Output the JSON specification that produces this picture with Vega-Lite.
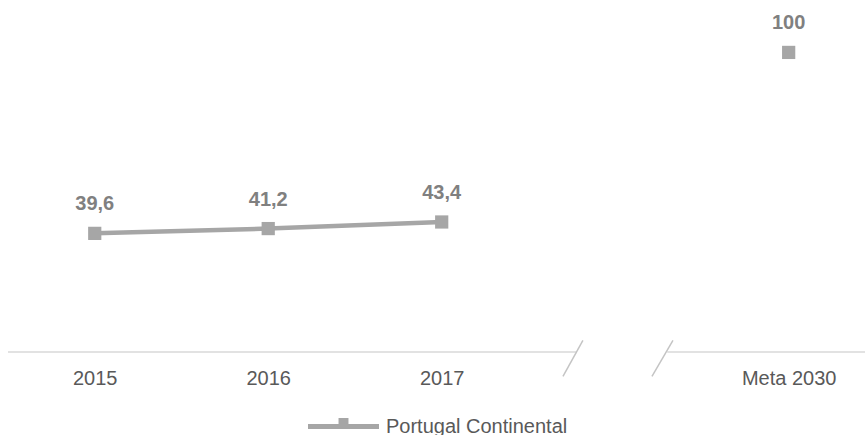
{
  "$schema": "https://vega.github.io/schema/vega-lite/v6.json",
  "width": 857,
  "height": 352,
  "autosize": {"type": "none"},
  "padding": {"left": 8, "top": 0, "right": 0, "bottom": 83},
  "background": "#ffffff",
  "config": {"view": {"stroke": null}, "font": "Liberation Sans"},
  "datasets": {
    "serie": [
      {"ordem": 0, "ano": "2015", "valor": 39.6, "rotulo": "39,6", "grupo": "historico", "serie": "Portugal Continental"},
      {"ordem": 1, "ano": "2016", "valor": 41.2, "rotulo": "41,2", "grupo": "historico", "serie": "Portugal Continental"},
      {"ordem": 2, "ano": "2017", "valor": 43.4, "rotulo": "43,4", "grupo": "historico", "serie": "Portugal Continental"},
      {"ordem": 4, "ano": "Meta 2030", "valor": 100, "rotulo": "100", "grupo": "meta", "serie": "Portugal Continental"}
    ],
    "eixo": [
      {"x": -0.5, "x2": 2.78},
      {"x": 3.30, "x2": 4.44}
    ],
    "quebras": [
      {"x": 2.814, "y": 3.9, "x2": 2.699, "y2": -8.1},
      {"x": 3.333, "y": 3.9, "x2": 3.212, "y2": -8.1}
    ]
  },
  "layer": [
    {
      "data": {"name": "eixo"},
      "mark": {"type": "rule", "color": "#d9d9d9", "strokeWidth": 1.5},
      "encoding": {
        "x": {
          "field": "x", "type": "quantitative",
          "scale": {"domain": [-0.5, 4.44], "nice": false, "zero": false},
          "axis": {
            "values": [0, 1, 2, 4],
            "labelExpr": "datum.value == 0 ? '2015' : datum.value == 1 ? '2016' : datum.value == 2 ? '2017' : 'Meta 2030'",
            "domain": false, "ticks": false, "grid": false, "title": null,
            "labelFontSize": 20, "labelColor": "#595959", "labelFont": "Liberation Sans",
            "labelBaseline": "alphabetic", "labelPadding": 32, "labelFlush": false, "labelOverlap": false
          }
        },
        "x2": {"field": "x2"},
        "y": {"datum": 0, "type": "quantitative", "scale": {"domain": [0, 117.5], "nice": false}, "axis": null}
      }
    },
    {
      "data": {"name": "quebras"},
      "mark": {"type": "rule", "color": "#c4c4c4", "strokeWidth": 1.5},
      "encoding": {
        "x": {"field": "x", "type": "quantitative"},
        "x2": {"field": "x2"},
        "y": {"field": "y", "type": "quantitative"},
        "y2": {"field": "y2"}
      }
    },
    {
      "data": {"name": "serie"},
      "transform": [{"filter": "datum.grupo === 'historico'"}],
      "mark": {"type": "line", "color": "#a6a6a6", "strokeWidth": 4.5},
      "encoding": {
        "x": {"field": "ordem", "type": "quantitative"},
        "y": {"field": "valor", "type": "quantitative"}
      }
    },
    {
      "data": {"name": "serie"},
      "mark": {"type": "square", "size": 175, "opacity": 1, "filled": true},
      "encoding": {
        "x": {"field": "ordem", "type": "quantitative"},
        "y": {"field": "valor", "type": "quantitative"},
        "color": {
          "field": "serie", "type": "nominal",
          "scale": {"range": ["#a6a6a6"]},
          "legend": {
            "title": null, "orient": "none", "legendX": 300, "legendY": 391,
            "symbolType": "M-1,-0.07H1V0.07H-1Z M-0.14,-0.24H0.14V0.07H-0.14Z",
            "symbolSize": 5041, "symbolStrokeWidth": 0, "labelLimit": 400,
            "labelFontSize": 20, "labelColor": "#595959", "labelFont": "Liberation Sans", "labelOffset": 7
          }
        }
      }
    },
    {
      "data": {"name": "serie"},
      "mark": {"type": "text", "fontSize": 20, "fontWeight": "bold", "color": "#808080", "baseline": "alphabetic", "dy": -23},
      "encoding": {
        "x": {"field": "ordem", "type": "quantitative"},
        "y": {"field": "valor", "type": "quantitative"},
        "text": {"field": "rotulo"}
      }
    }
  ]
}
